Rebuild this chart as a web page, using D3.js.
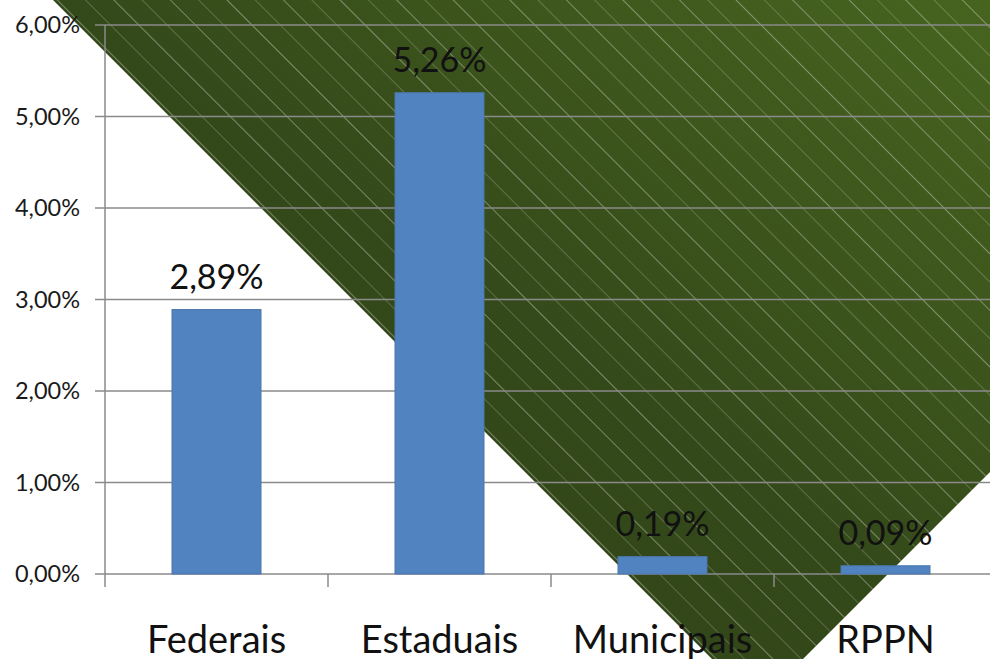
<!DOCTYPE html>
<html><head><meta charset="utf-8">
<script src="https://cdn.jsdelivr.net/npm/d3@7"></script>
<style>html,body{margin:0;padding:0;background:#fff;overflow:hidden}</style>
</head><body>
<svg id="c" width="990" height="659"></svg>
<script>
const categories = ["Federais", "Estaduais", "Municipais", "RPPN"];
const values = [2.89, 5.26, 0.19, 0.09];
const valueLabels = ["2,89%", "5,26%", "0,19%", "0,09%"];
const yTicks = [0, 1, 2, 3, 4, 5, 6];
const yTickLabels = ["0,00%", "1,00%", "2,00%", "3,00%", "4,00%", "5,00%", "6,00%"];

const W = 990, H = 659;
const svg = d3.select("#c");
const FONT = "Lato, 'Open Sans', sans-serif";

// background decoration: green hatched triangle
const defs = svg.append("defs");
const grad = defs.append("linearGradient").attr("id", "g").attr("x1", "0").attr("y1", "1").attr("x2", "1").attr("y2", "0");
grad.append("stop").attr("offset", "0").attr("stop-color", "#2f4216");
grad.append("stop").attr("offset", "0.5").attr("stop-color", "#34491a");
grad.append("stop").attr("offset", "1").attr("stop-color", "#47641f");
const pat = defs.append("pattern").attr("id", "h").attr("patternUnits", "userSpaceOnUse")
  .attr("width", 40).attr("height", 40).attr("patternTransform", "rotate(-45)");
pat.append("line").attr("x1", 0.5).attr("y1", 0).attr("x2", 0.5).attr("y2", 40)
  .attr("stroke", "#ffffff").attr("stroke-opacity", 0.35).attr("stroke-width", 1);
pat.append("line").attr("x1", 20.5).attr("y1", 0).attr("x2", 20.5).attr("y2", 40)
  .attr("stroke", "#ffffff").attr("stroke-opacity", 0.2).attr("stroke-width", 1);
const tri = [[53, 0], [W, 0], [W, 472], [803, H], [712, H]];
svg.append("polygon").attr("points", tri.map(p => p.join(",")).join(" ")).attr("fill", "url(#g)");
svg.append("polygon").attr("points", tri.map(p => p.join(",")).join(" ")).attr("fill", "url(#h)");

// chart
const x0 = 105, bandW = 223;
const x = d3.scaleBand().domain(categories).range([x0, x0 + bandW * categories.length]).paddingInner(0).paddingOuter(0);
const y = d3.scaleLinear().domain([0, 6]).range([574, 25]);

const g = svg.append("g");
g.selectAll(".grid").data(yTicks).enter().append("line")
  .attr("x1", x0 - 10).attr("x2", W).attr("y1", d => y(d)).attr("y2", d => y(d))
  .attr("stroke", "#8a8a8a").attr("stroke-width", 1.5);
g.append("line").attr("x1", x0).attr("x2", x0).attr("y1", y(6)).attr("y2", y(0) + 13)
  .attr("stroke", "#8a8a8a").attr("stroke-width", 1.5);
const catTicks = categories.map((c, i) => x0 + bandW * (i + 1));
g.selectAll(".ct").data(catTicks).enter().append("line")
  .attr("x1", d => d).attr("x2", d => d).attr("y1", y(0)).attr("y2", y(0) + 13)
  .attr("stroke", "#8a8a8a").attr("stroke-width", 1.5);

g.selectAll(".yl").data(yTicks).enter().append("text")
  .attr("x", 80).attr("y", d => y(d)).attr("dy", "0.36em")
  .attr("text-anchor", "end").attr("font-family", FONT).attr("font-size", 23.5).attr("fill", "#1a1a1a")
  .text((d, i) => yTickLabels[i]);

const bw = 89;
g.selectAll(".bar").data(values).enter().append("rect")
  .attr("x", (d, i) => x(categories[i]) + x.bandwidth() / 2 - bw / 2)
  .attr("y", d => y(d)).attr("width", bw).attr("height", d => y(0) - y(d))
  .attr("fill", "#5083c0").attr("stroke", "#4a77ad").attr("stroke-width", 1);

g.selectAll(".vl").data(values).enter().append("text")
  .attr("x", (d, i) => x(categories[i]) + x.bandwidth() / 2)
  .attr("y", d => y(d) - 21)
  .attr("text-anchor", "middle").attr("font-family", FONT).attr("font-size", 34).attr("fill", "#111")
  .text((d, i) => valueLabels[i]);

g.selectAll(".cl").data(categories).enter().append("text")
  .attr("x", d => x(d) + x.bandwidth() / 2).attr("y", 653)
  .attr("text-anchor", "middle").attr("font-family", FONT).attr("font-size", 38).attr("fill", "#111")
  .text(d => d);
</script>
</body></html>
